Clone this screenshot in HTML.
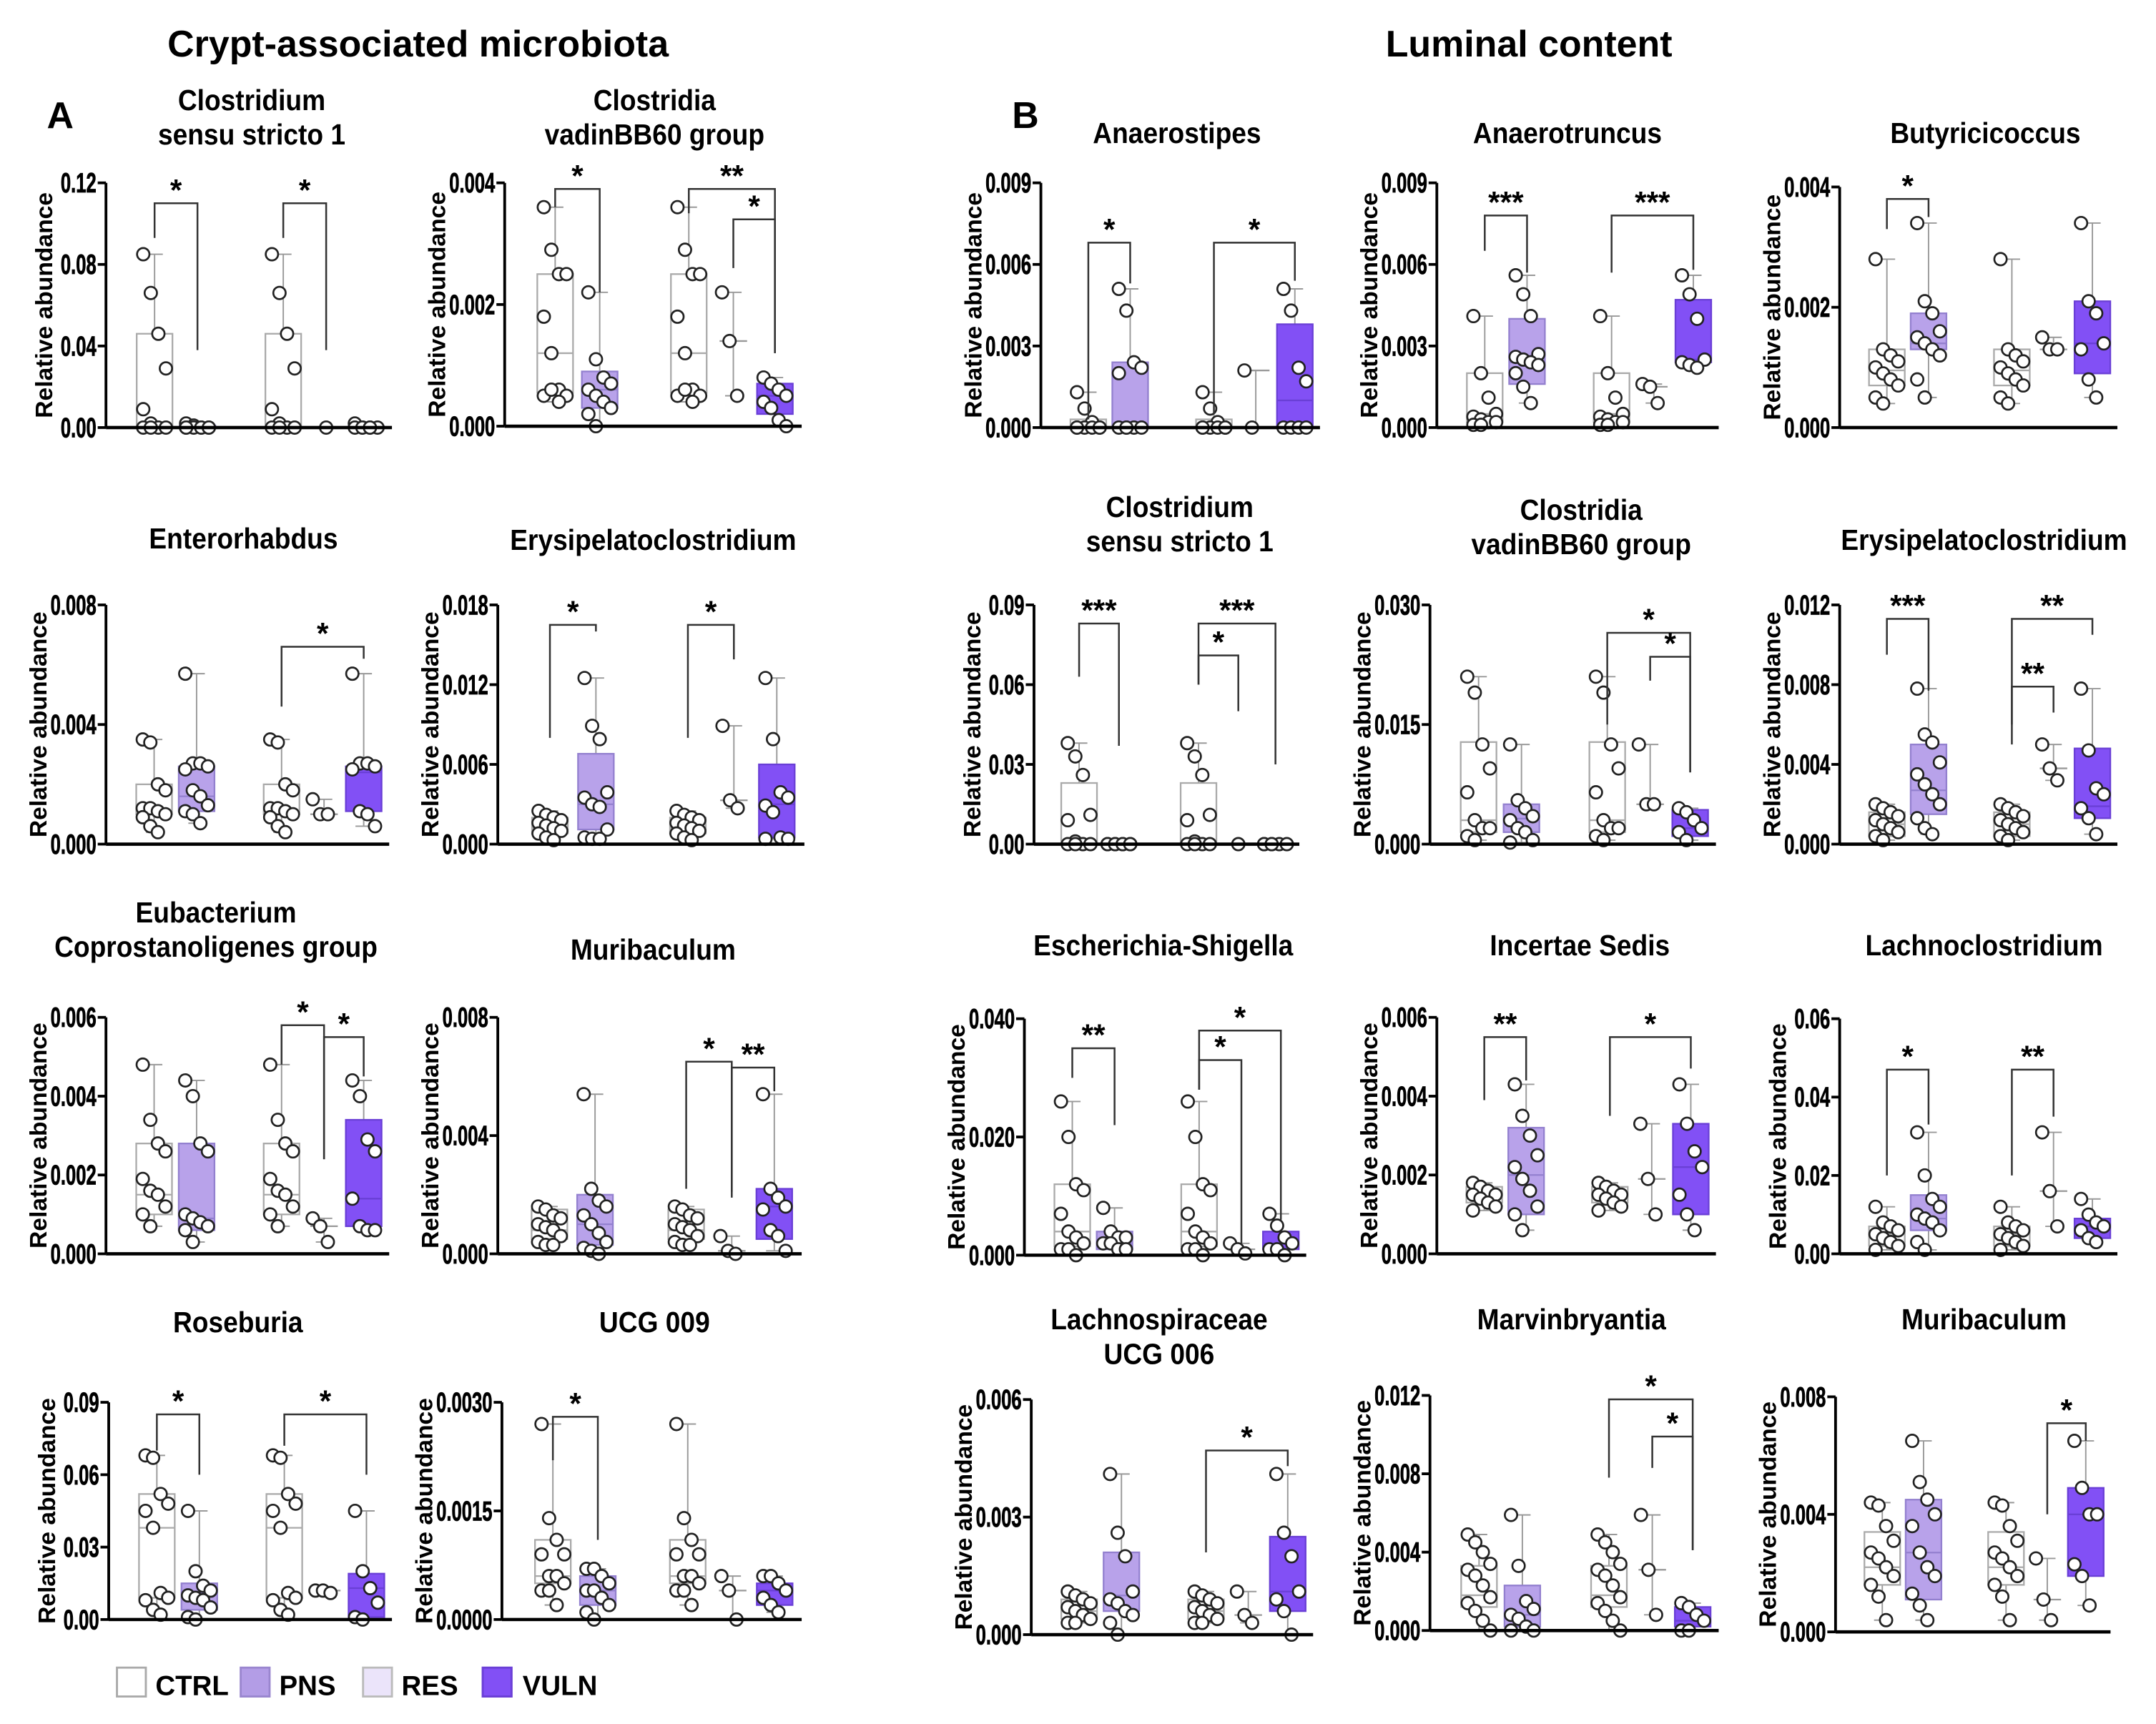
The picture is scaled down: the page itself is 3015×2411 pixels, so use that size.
<!DOCTYPE html>
<html><head><meta charset="utf-8">
<style>
html,body{margin:0;padding:0;background:#fff;}
svg{display:block;font-family:"Liberation Sans",Arial,sans-serif;}
</style></head>
<body>
<svg id="fig" width="3015" height="2411" viewBox="0 0 1568 1254" xmlns="http://www.w3.org/2000/svg">
<rect x="0" y="0" width="1568" height="1254" fill="#fff"/>
<text x="304" y="41" font-size="27" font-weight="bold" text-anchor="middle">Crypt-associated microbiota</text>
<text x="1112" y="41" font-size="27" font-weight="bold" text-anchor="middle">Luminal content</text>
<text x="34" y="93" font-size="27" font-weight="bold">A</text>
<text x="736" y="93" font-size="27" font-weight="bold">B</text>
<g id="legend">
<rect x="85" y="1213" width="21" height="21" fill="#fff" stroke="#aaa" stroke-width="1.5"/>
<text x="113" y="1233" font-size="20" font-weight="bold">CTRL</text>
<rect x="175" y="1213" width="21" height="21" fill="#b39de6" stroke="#9a86cf" stroke-width="1.5"/>
<text x="203" y="1233" font-size="20" font-weight="bold">PNS</text>
<rect x="264" y="1213" width="21" height="21" fill="#ebe4fa" stroke="#bbb" stroke-width="1.5"/>
<text x="292" y="1233" font-size="20" font-weight="bold">RES</text>
<rect x="351" y="1213" width="21" height="21" fill="#8250f5" stroke="#6a3fd6" stroke-width="1.5"/>
<text x="380" y="1233" font-size="20" font-weight="bold">VULN</text>
</g>
</svg>
<script>
const titles = [
 ["Clostridium","sensu stricto 1"],["Clostridia","vadinBB60 group"],
 ["Enterorhabdus"],["Erysipelatoclostridium"],
 ["Eubacterium","Coprostanoligenes group"],["Muribaculum"],
 ["Roseburia"],["UCG 009"],
 ["Anaerostipes"],["Anaerotruncus"],["Butyricicoccus"],
 ["Clostridium","sensu stricto 1"],["Clostridia","vadinBB60 group"],["Erysipelatoclostridium"],
 ["Escherichia-Shigella"],["Incertae Sedis"],["Lachnoclostridium"],
 ["Lachnospiraceae","UCG 006"],["Marvinbryantia"],["Muribaculum"]
];
const yMax = [0.12,0.004,0.008,0.018,0.006,0.008,0.09,0.003,0.009,0.009,0.004,0.09,0.030,0.012,0.040,0.006,0.06,0.006,0.012,0.008];
const tickLabels = [
 ["0.00","0.04","0.08","0.12"],["0.000","0.002","0.004"],
 ["0.000","0.004","0.008"],["0.000","0.006","0.012","0.018"],
 ["0.000","0.002","0.004","0.006"],["0.000","0.004","0.008"],
 ["0.00","0.03","0.06","0.09"],["0.0000","0.0015","0.0030"],
 ["0.000","0.003","0.006","0.009"],["0.000","0.003","0.006","0.009"],["0.000","0.002","0.004"],
 ["0.00","0.03","0.06","0.09"],["0.000","0.015","0.030"],["0.000","0.004","0.008","0.012"],
 ["0.000","0.020","0.040"],["0.000","0.002","0.004","0.006"],["0.00","0.02","0.04","0.06"],
 ["0.000","0.003","0.006"],["0.000","0.004","0.008","0.012"],["0.000","0.004","0.008"]
];
const ctrlPts = [
 [.085,.066,.046,.029,.009,.002,0,0,0,0],
 [.0036,.0029,.0025,.0025,.0018,.0012,.0006,.0005,.0005,.0006,.0004],
 [.0035,.0034,.002,.0018,.0012,.0012,.0011,.001,.0009,.0006,.0004],
 [.0025,.0022,.002,.0018,.0016,.0014,.0012,.001,.0008,.0005,.0003],
 [.0048,.0034,.0028,.0026,.0019,.0016,.0015,.0012,.001,.0007],
 [.0016,.0015,.0013,.0012,.001,.0009,.0008,.0006,.0004,.0003,.0003],
 [.068,.067,.052,.048,.045,.038,.011,.009,.008,.004,.002],
 [.0027,.0014,.0011,.0009,.0009,.0006,.0006,.0005,.0004,.0004,.0002],
 [.0013,.0007,.0002,0,0,0,0,0,0],
 [.0041,.002,.0011,.0005,.0004,.0003,.0002,.0002,.0001,.0001],
 [.0028,.0013,.0012,.0011,.001,.0009,.0008,.0007,.0005,.0004],
 [.038,.033,.026,.011,.009,.001,0,0,0,0],
 [.021,.019,.0125,.0095,.0065,.003,.002,.002,.001,.0005],
 [.002,.0018,.0016,.0014,.0012,.001,.0008,.0006,.0004,.0002],
 [.026,.02,.012,.011,.007,.004,.003,.002,.001,.001,0],
 [.0018,.0017,.0016,.0015,.0015,.0014,.0013,.0012,.0011],
 [.012,.008,.007,.006,.005,.004,.003,.002,.001],
 [.0011,.001,.0009,.0008,.0007,.0006,.0005,.0004,.0003,.0003],
 [.0049,.0045,.004,.0034,.0031,.0028,.0023,.0017,.0014,.001,.0005,0],
 [.0044,.0043,.0036,.0031,.0027,.0025,.0022,.0019,.0016,.0012,.0004]
];
const pnsPts = [
 [.002,.001,0,0,0,0,0,0,0],
 [.0022,.0011,.0008,.0007,.0006,.0005,.0004,.0003,.0002,0],
 [.0057,.0027,.0027,.0026,.0025,.0018,.0016,.0013,.0011,.001,.0007],
 [.0125,.0089,.0079,.0039,.0035,.003,.0028,.0011,.0005,.0004,.0004],
 [.0044,.004,.0028,.0026,.001,.0009,.0008,.0007,.0006,.0003],
 [.0054,.0022,.0018,.0016,.0013,.001,.0007,.0004,.0002,.0001,0],
 [.045,.02,.014,.012,.01,.009,.008,.005,.001,0],
 [.0007,.0007,.0006,.0005,.0004,.0004,.0003,.0002,.0001,0],
 [.0051,.0043,.0024,.0022,.002,0,0,0,0,0],
 [.0056,.0049,.0041,.0027,.0026,.0025,.0024,.0023,.002,.0015,.0009],
 [.0034,.0021,.0019,.0016,.0015,.0014,.0013,.0012,.0008,.0005],
 [0,0,0,0,0,0,0,0],
 [.0125,.0055,.0045,.0035,.003,.002,.0015,.0005,.0002],
 [.0078,.0055,.0051,.0041,.0035,.003,.0025,.002,.0013,.0008,.0005],
 [.008,.004,.003,.003,.002,.002,.001,.001],
 [.0043,.0035,.003,.0025,.0022,.0019,.0016,.0012,.001,.0006],
 [.031,.02,.014,.012,.01,.009,.008,.006,.003,.001],
 [.0041,.0026,.002,.0011,.0009,.0008,.0006,.0005,.0003,0],
 [.0059,.0033,.0015,.0011,.0008,.0006,.0002,0,0],
 [.0065,.0051,.0045,.004,.0036,.0027,.0022,.0019,.0013,.0009,.0004]
];
const resPts = [
 [0],[.0022,.0014,.0005],[.0015,.001,.001],[.0089,.0033,.0027],[.0009,.0007,.0003],
 [.0006,.0001,0],[.012,.012,.011],[.0006,.0004,0],[.0021,0],[.0016,.0015,.0009],
 [.0015,.0013,.0013],[0],[.0125,.005,.005],[.005,.0038,.0032],[.002,.001,.0003],
 [.0033,.0019,.001],[.031,.016,.007],[.0011,.0005,.0003],[.0059,.0031,.0008],[.0025,.0011,.0004]
];
const vulnPts = [
 [.002,0,0,0,0,0,0],
 [.0008,.0007,.0006,.0005,.0004,.0003,.0001,0],
 [.0057,.0027,.0027,.0026,.0025,.0011,.001,.0006],
 [.0125,.0079,.0039,.0035,.0029,.0024,.0005,.0004,.0004],
 [.0044,.004,.0029,.0026,.0014,.0007,.0006,.0006],
 [.0054,.0022,.0019,.0016,.0015,.0008,.0006,.0001],
 [.045,.02,.013,.007,.001,0],
 [.0006,.0006,.0005,.0004,.0003,.0002,.0001],
 [.0051,.0043,.0022,.0017,0,0,0,0],
 [.0056,.0049,.004,.0025,.0024,.0023,.0022],
 [.0034,.0021,.0019,.0014,.0013,.0008,.0005],
 [0,0,0,0,0,0],
 [.0045,.004,.003,.002,.0015,.0005],
 [.0078,.0047,.0028,.0025,.0018,.0013,.0005],
 [.007,.005,.003,.002,.001,.001,0],
 [.0043,.0033,.0026,.0022,.0015,.001,.0006],
 [.014,.01,.008,.007,.006,.004,.003],
 [.0041,.0026,.002,.0011,.0009,.0006,0],
 [.0014,.0012,.0008,.0005,0,0],
 [.0065,.0049,.004,.004,.0023,.0019,.0009]
];
// box quartiles [q1, median, q3]
const ctrlBox = [[0,.001,.046],[.00055,.0012,.0025],[.001,.0011,.002],[.0008,.0012,.002],[.001,.0015,.0028],[.0005,.0008,.0015],[.009,.038,.052],[.0005,.0006,.0011],[0,0,.0003],[.0002,.0005,.002],[.0007,.00095,.0013],[0,.0005,.023],[.0015,.003,.0128],[.0004,.001,.0016],[.0015,.004,.012],[.0013,.0015,.0017],[.002,.005,.007],[.0004,.0006,.0009],[.0012,.0018,.0033],[.0016,.0022,.0034]];
const pnsBox = [[0,0,.001],[.0003,.0006,.0009],[.0011,.0016,.0026],[.0011,.003,.0068],[.0006,.0009,.0028],[.0003,.001,.002],[.004,.011,.015],[.0002,.0004,.0006],[0,0,.0024],[.0016,.0024,.004],[.0013,.0014,.0019],[0,0,0],[.0015,.0032,.005],[.0015,.0027,.005],[.001,.002,.004],[.001,.002,.0032],[.006,.009,.015],[.0006,.001,.0021],[.0002,.0008,.0023],[.0011,.0027,.0045]];
const vulnBox = [[0,0,.0005],[.0002,.0005,.0007],[.0011,.0024,.0026],[.0005,.003,.006],[.0007,.0014,.0034],[.0005,.0016,.0022],[.001,.013,.019],[.0002,.0004,.0005],[0,.001,.0038],[.0024,.0025,.0047],[.0009,.0014,.0021],[0,0,0],[.001,.002,.0043],[.0013,.0019,.0048],[.001,.002,.004],[.001,.0022,.0033],[.004,.007,.009],[.0006,.0011,.0025],[.0002,.0005,.0012],[.0019,.004,.0049]];
// significance brackets: [panel, groupA, groupB, top, leftLegEnd, rightLegEnd, label]
const brackets = [
 [0,0,1,.11,.093,.038,"*"],[0,2,3,.11,.093,.038,"*"],
 [1,0,1,.0039,.0036,.0022,"*"],[1,2,4,.0039,.0035,.0012,"**"],[1,3,4,.0034,.0026,.0012,"*"],
 [2,2,4,.0066,.0046,.0062,"*"],
 [3,0,1,.0165,.008,.016,"*"],[3,2,3,.0165,.008,.0139,"*"],
 [4,2,3,.0058,.0048,.0024,"*"],[4,3,4,.0055,.0024,.0045,"*"],
 [5,2,3,.0065,.0022,.0019,"*"],[5,3,4,.0063,.0021,.0055,"**"],
 [6,0,1,.085,.07,.06,"*"],[6,2,4,.085,.072,.06,"*"],
 [7,0,1,.0028,.0022,.0011,"*"],
 [8,0,1,.0068,.0003,.0053,"*"],[8,2,4,.0068,.0005,.0054,"*"],
 [9,0,1,.0078,.0065,.0057,"***"],[9,2,4,.0078,.0057,.0058,"***"],
 [10,0,1,.0038,.0033,.0035,"*"],
 [11,0,1,.083,.063,.037,"***"],[11,2,4,.083,.06,.03,"***"],[11,2,3,.071,.06,.05,"*"],
 [12,2,4,.0265,.015,.009,"*"],[12,3,4,.0235,.0205,.009,"*"],
 [13,0,1,.0113,.0095,.0077,"***"],[13,2,4,.0113,.005,.0105,"**"],[13,2,3,.0079,.006,.0066,"**"],
 [14,0,1,.035,.03,.022,"**"],[14,2,4,.038,.028,.006,"*"],[14,2,3,.033,.028,.002,"*"],
 [15,0,1,.0055,.0039,.0044,"**"],[15,2,4,.0055,.0035,.0047,"*"],
 [16,0,1,.047,.02,.033,"*"],[16,2,3,.047,.02,.035,"**"],
 [17,2,4,.0047,.0021,.0043,"*"],
 [18,2,4,.0118,.0078,.0041,"*"],[18,3,4,.0099,.0083,.0041,"*"],
 [19,3,4,.0071,.004,.0065,"*"]
];
// layout (not data): [xL, xR, yTop, yBottom, titleX, titleY]
const layout = [
 [77,285,133,311,183,80],[367,583,133,310,476,80],
 [77,283,440,614,177,399],[362,585,440,614,475,400],
 [77,283,740,912,157,671],[362,583,740,912,475,698],
 [79,285,1020,1178,173,969],[365,583,1020,1178,476,969],
 [757,960,133,311,856,104],[1045,1250,133,311,1140,104],[1338,1540,136,311,1444,104],
 [752,945,440,614,858,376],[1040,1248,440,614,1150,378],[1338,1540,440,614,1443,400],
 [745,950,741,913,846,695],[1045,1248,740,912,1149,695],[1338,1540,741,912,1443,695],
 [750,955,1018,1189,843,967],[1040,1250,1015,1186,1143,967],[1335,1535,1016,1187,1443,967]
];
const groupFrac = [0.17,0.32,0.62,0.77,0.91];
const groupStyle = [
 {fill:"#ffffff",stroke:"#aaaaaa"},{fill:"#b8a2ea",stroke:"#9380cf"},
 {fill:"#ffffff",stroke:"#aaaaaa"},{fill:"#ede7fb",stroke:"#aaaaaa"},
 {fill:"#8250f5",stroke:"#6a3fd6"}
];
const groupNames = ["ctrl","pns","ctrl-2","res","vuln"];
const TICK_FS = 18.5, TICK_SX = 0.72;

const NS = "http://www.w3.org/2000/svg";
const svg = document.getElementById("fig");
function mk(tag, attrs, parent){
  const e = document.createElementNS(NS, tag);
  for (const k in attrs) e.setAttribute(k, attrs[k]);
  (parent||svg).appendChild(e);
  return e;
}
function labelWidth(s){
  let w = 0;
  for (const ch of s) w += (ch === '.') ? 0.278 : 0.556;
  return w * TICK_FS * TICK_SX;
}

for (let p = 0; p < titles.length; p++){
  const [xL,xR,yT,yB,tx,ty] = layout[p];
  const g = mk("g", {});
  
  
  const yS = v => yB - (v / yMax[p]) * (yB - yT);
  const xS = gi => xL + groupFrac[gi] * (xR - xL);

  titles[p].forEach((line, li) => {
    const t = mk("text", {x:0, y:0, "font-size":21, "font-weight":"bold", "text-anchor":"middle",
      transform:`translate(${tx},${ty + li*25}) scale(0.92,1)`}, g);
    t.textContent = line;
    
    
  });
  const maxW = Math.max(...tickLabels[p].map(labelWidth));
  const titleX = Math.min(xL - 39, xL - 7 - maxW - 3);
  const yt = mk("text", {x:0, y:0, "font-size":17.5, "font-weight":"bold", "text-anchor":"middle",
    transform:`translate(${titleX},${(yT+yB)/2}) rotate(-90)`}, g);
  yt.textContent = "Relative abundance";
  
  
  const ya = mk("line", {x1:xL, y1:yT, x2:xL, y2:yB, stroke:"#000", "stroke-width":2}, g);
  
  
  const n = tickLabels[p].length;
  tickLabels[p].forEach((lab, i) => {
    const v = yMax[p] * i / (n-1);
    const y = yS(v);
    const tk = mk("line", {x1:xL-6, y1:y, x2:xL, y2:y, stroke:"#000", "stroke-width":2}, g);
    
    
    const tl = mk("text", {x:0, y:0, "font-size":TICK_FS, "font-weight":"bold", "text-anchor":"end",
      stroke:"#000", "stroke-width":0.4,
      transform:`translate(${xL-7},${y+7}) scale(${TICK_SX},1.1)`}, g);
    tl.textContent = lab;
    
    
  });
  const pts = [ctrlPts[p], pnsPts[p], ctrlPts[p], resPts[p], vulnPts[p]];
  const boxes = [ctrlBox[p], pnsBox[p], ctrlBox[p], null, vulnBox[p]];
  const bw = 26;
  for (let gi = 0; gi < 5; gi++){
    const cx = xS(gi);
    const vals = pts[gi];
    const gg = mk("g", {}, g);
    
    
    const mn = Math.min(...vals), mx = Math.max(...vals);
    const st = groupStyle[gi];
    const wl = mk("line", {x1:cx, y1:yS(mn), x2:cx, y2:yS(mx), stroke:"#999", "stroke-width":1}, gg);
    
    
    [mn,mx].forEach(v => {
      const c = mk("line", {x1:cx-6, y1:yS(v), x2:cx+6, y2:yS(v), stroke:"#999", "stroke-width":1}, gg);
      
      
    });
    const bx = boxes[gi];
    if (bx){
      const r = mk("rect", {x:cx-bw/2, y:yS(bx[2]), width:bw, height:Math.max(0.5, yS(bx[0])-yS(bx[2])), fill:st.fill, stroke:st.stroke, "stroke-width":1.2}, gg);
      
      
      const md = mk("line", {x1:cx-bw/2, y1:yS(bx[1]), x2:cx+bw/2, y2:yS(bx[1]), stroke:st.stroke, "stroke-width":1.2}, gg);
      
      
    } else {
      const sorted = vals.slice().sort((a,b)=>a-b);
      const med = sorted[Math.floor(sorted.length/2)];
      const md = mk("line", {x1:cx-10, y1:yS(med), x2:cx+10, y2:yS(med), stroke:"#999", "stroke-width":1.2}, gg);
      
      
    }
    vals.forEach((v, i) => {
      const off = vals.length === 1 ? 0 : ((i % 4) - 1.5) * 5.5;
      const c = mk("circle", {cx:cx+off, cy:yS(v), r:4.5, fill:"#fff", stroke:"#222", "stroke-width":1.4}, gg);
      
      
    });
  }
  const xa = mk("line", {x1:xL, y1:yB, x2:xR, y2:yB, stroke:"#000", "stroke-width":2.4}, g);
  
  
}

brackets.forEach(b => {
  const [p, ga, gb, top, le, re, lab] = b;
  const [xL,xR,yT,yB] = layout[p];
  const yS = v => yB - (v / yMax[p]) * (yB - yT);
  const x1 = xL + groupFrac[ga]*(xR-xL), x2 = xL + groupFrac[gb]*(xR-xL);
  const path = mk("path", {d:`M${x1},${yS(le)} V${yS(top)} H${x2} V${yS(re)}`, fill:"none", stroke:"#333", "stroke-width":1.3});
  
  
  const t = mk("text", {x:(x1+x2)/2, y:yS(top)-2, "font-size":22, "font-weight":"bold", "text-anchor":"middle"});
  t.textContent = lab;
  
  
});
</script>
</body></html>
